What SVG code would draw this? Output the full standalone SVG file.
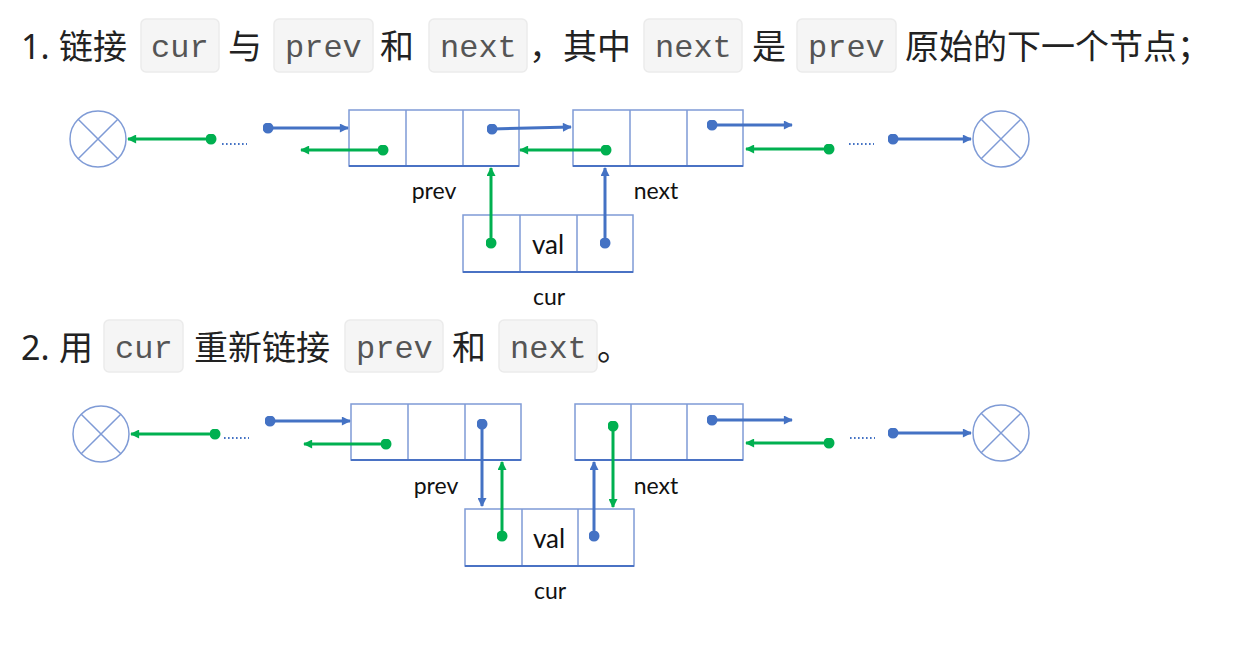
<svg xmlns="http://www.w3.org/2000/svg" width="1259" height="646" viewBox="0 0 1259 646">
<defs>
<style>
.t{font-family:"Noto Sans","Noto Sans CJK SC",sans-serif;font-size:34px;fill:#222}
.c{font-family:"Liberation Mono","DejaVu Sans Mono",monospace;font-size:32px;fill:#555}
.cb{fill:#f5f5f5;stroke:#ebebeb;stroke-width:1.5}
.lb{font-family:Lato,"Noto Sans",sans-serif;font-size:23px;fill:#111;text-anchor:middle}
.vl{font-family:Lato,"Noto Sans",sans-serif;font-size:26px;fill:#111;text-anchor:middle}
.box{fill:#fff;stroke:#7f9bd6;stroke-width:1.5}
.bot{stroke:#4a72c4;stroke-width:2}
.div{stroke:#7f9bd6;stroke-width:1.5}
.nil{fill:#fff;stroke:#7f9bd6;stroke-width:1.5}
.b{stroke:#4472C4;stroke-width:3;fill:none;marker-start:url(#db);marker-end:url(#ab)}
.g{stroke:#00B050;stroke-width:3;fill:none;marker-start:url(#dg);marker-end:url(#ag)}
.dots{stroke:#4472C4;stroke-width:1.8;stroke-dasharray:1.6 2.4}
</style>
<marker id="ab" viewBox="0 0 10 10" refX="9" refY="5" markerWidth="11" markerHeight="9" markerUnits="userSpaceOnUse" orient="auto"><path d="M0,0L10,5L0,10z" fill="#4472C4"/></marker>
<marker id="ag" viewBox="0 0 10 10" refX="9" refY="5" markerWidth="11" markerHeight="9" markerUnits="userSpaceOnUse" orient="auto"><path d="M0,0L10,5L0,10z" fill="#00B050"/></marker>
<marker id="db" viewBox="0 0 10 10" refX="5" refY="5" markerWidth="11" markerHeight="11" markerUnits="userSpaceOnUse"><circle cx="5" cy="5" r="5" fill="#4472C4"/></marker>
<marker id="dg" viewBox="0 0 10 10" refX="5" refY="5" markerWidth="11" markerHeight="11" markerUnits="userSpaceOnUse"><circle cx="5" cy="5" r="5" fill="#00B050"/></marker>
</defs>
<rect width="1259" height="646" fill="#fff"/>

<g id="heading1">
<rect class="cb" x="141" y="19" width="78" height="53" rx="5"/>
<rect class="cb" x="274" y="19" width="99" height="53" rx="5"/>
<rect class="cb" x="429" y="19" width="98" height="53" rx="5"/>
<rect class="cb" x="644" y="19" width="98" height="53" rx="5"/>
<rect class="cb" x="797" y="19" width="99" height="53" rx="5"/>
<text class="t" x="21" y="59">1.</text>
<text class="t" x="59" y="59">链接</text>
<text class="c" x="151" y="57">cur</text>
<text class="t" x="228" y="59">与</text>
<text class="c" x="285" y="57">prev</text>
<text class="t" x="380" y="59">和</text>
<text class="c" x="440" y="57">next</text>
<text class="t" x="529" y="59">，其中</text>
<text class="c" x="655" y="57">next</text>
<text class="t" x="752" y="59">是</text>
<text class="c" x="808" y="57">prev</text>
<text class="t" x="905" y="59">原始的下一个节点；</text>
</g>

<g id="heading2">
<rect class="cb" x="104" y="320" width="79" height="52" rx="5"/>
<rect class="cb" x="345" y="320" width="98" height="52" rx="5"/>
<rect class="cb" x="499" y="320" width="98" height="52" rx="5"/>
<text class="t" x="21" y="360">2.</text>
<text class="t" x="59" y="360">用</text>
<text class="c" x="115" y="358">cur</text>
<text class="t" x="194" y="360">重新链接</text>
<text class="c" x="356" y="358">prev</text>
<text class="t" x="452" y="360">和</text>
<text class="c" x="510" y="358">next</text>
<text class="t" x="597" y="360">。</text>
</g>

<!-- Diagram 1 -->
<g id="d1-nil-left">
<circle class="nil" cx="98" cy="139" r="28"/>
<path class="div" d="M78.2,119.2L117.8,158.8M117.8,119.2L78.2,158.8"/>
</g>
<g id="d1-nil-right">
<circle class="nil" cx="1001" cy="139" r="28"/>
<path class="div" d="M981.2,119.2L1020.8,158.8M1020.8,119.2L981.2,158.8"/>
</g>
<g id="d1-prev">
<rect class="box" x="349" y="110" width="170" height="56"/>
<path class="div" d="M406,110V166M463,110V166"/>
<path class="bot" d="M349,166H519"/>
<text class="lb" x="434" y="199">prev</text>
</g>
<g id="d1-next">
<rect class="box" x="573" y="110" width="170" height="56"/>
<path class="div" d="M630,110V166M687,110V166"/>
<path class="bot" d="M573,166H743"/>
<text class="lb" x="656" y="199">next</text>
</g>
<g id="d1-cur">
<rect class="box" x="463" y="215" width="170" height="57"/>
<path class="div" d="M520,215V272M577,215V272"/>
<path class="bot" d="M463,272H633"/>
<text class="vl" x="548" y="254">val</text>
<text class="lb" x="549" y="305">cur</text>
</g>
<g id="d1-connectors">
<line class="dots" x1="222" y1="144" x2="247" y2="144"/>
<line class="dots" x1="849" y1="144" x2="874" y2="144"/>
<path class="g" d="M211,139H128"/>
<path class="b" d="M268,128H348"/>
<path class="g" d="M383,150H301"/>
<path class="b" d="M492,129L571,127"/>
<path class="g" d="M606,150H520"/>
<path class="b" d="M712,125H792"/>
<path class="g" d="M829,149H746"/>
<path class="b" d="M893,139H971"/>
<path class="g" d="M491,243V168"/>
<path class="b" d="M605,243V168"/>
</g>

<!-- Diagram 2 -->
<g id="d2-nil-left">
<circle class="nil" cx="101" cy="434" r="28"/>
<path class="div" d="M81.2,414.2L120.8,453.8M120.8,414.2L81.2,453.8"/>
</g>
<g id="d2-nil-right">
<circle class="nil" cx="1001" cy="433" r="28"/>
<path class="div" d="M981.2,413.2L1020.8,452.8M1020.8,413.2L981.2,452.8"/>
</g>
<g id="d2-prev">
<rect class="box" x="351" y="404" width="170" height="56"/>
<path class="div" d="M408,404V460M465,404V460"/>
<path class="bot" d="M351,460H521"/>
<text class="lb" x="436" y="494">prev</text>
</g>
<g id="d2-next">
<rect class="box" x="575" y="404" width="168" height="56"/>
<path class="div" d="M631,404V460M687,404V460"/>
<path class="bot" d="M575,460H743"/>
<text class="lb" x="656" y="494">next</text>
</g>
<g id="d2-cur">
<rect class="box" x="465" y="509" width="169" height="57"/>
<path class="div" d="M522,509V566M578,509V566"/>
<path class="bot" d="M465,566H634"/>
<text class="vl" x="549" y="548">val</text>
<text class="lb" x="550" y="599">cur</text>
</g>
<g id="d2-connectors">
<line class="dots" x1="224" y1="438" x2="249" y2="438"/>
<line class="dots" x1="850" y1="438" x2="875" y2="438"/>
<path class="g" d="M215,434H131"/>
<path class="b" d="M270,421H350"/>
<path class="g" d="M386,444H304"/>
<path class="b" d="M482,424V506"/>
<path class="g" d="M502,536V462"/>
<path class="b" d="M594,536V462"/>
<path class="g" d="M613,426V507"/>
<path class="b" d="M712,420H792"/>
<path class="g" d="M829,443H746"/>
<path class="b" d="M893,433H971"/>
</g>
</svg>
